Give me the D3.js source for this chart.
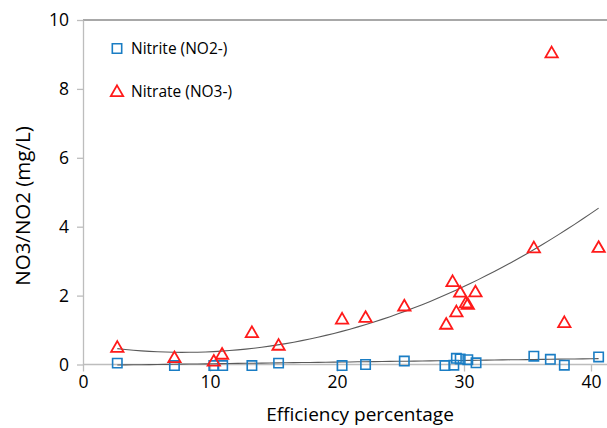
<!DOCTYPE html>
<html>
<head>
<meta charset="utf-8">
<script src="https://cdn.jsdelivr.net/npm/d3@7"></script>
<style>
    body { margin: 0; background: #fff; }
    svg { display: block; font-family: "Open Sans", Lato, sans-serif; font-weight: 500; }
    .tickLabel { font-size: 17.5px; fill: #000; }
    .axisLabel { font-size: 19px; fill: #000; }
    .legendText { font-size: 15.5px; fill: #000; }
</style>
</head>
<body>
<div id="plotSect"></div>
<script>
/* global d3 */

// Data //

let xTicks = [0, 10, 20, 30, 40];
let yTicks = [0, 2, 4, 6, 8, 10];

let nitrateX = [2.7, 7.2, 10.3, 10.95, 13.3, 15.4, 20.4, 22.25, 25.3, 28.6,
    29.1, 29.4, 29.7, 30.15, 30.3, 30.9, 35.5, 36.9, 37.9, 40.6];
let nitrateY = [0.5, 0.2, 0.1, 0.3, 0.93, 0.56, 1.32, 1.37, 1.7, 1.17,
    2.41, 1.53, 2.1, 1.79, 1.75, 2.11, 3.39, 9.05, 1.22, 3.4];

let nitriteX = [2.7, 7.2, 10.3, 11.0, 13.3, 15.4, 20.4, 22.25, 25.3, 28.5,
    29.2, 29.4, 29.7, 30.3, 30.95, 35.5, 36.8, 37.9, 40.6];
let nitriteY = [0.04, -0.03, -0.03, -0.03, -0.03, 0.04, -0.03, 0.0, 0.1, -0.03,
    -0.02, 0.18, 0.16, 0.14, 0.05, 0.24, 0.15, -0.02, 0.22];

// trendline coefficients (a + b*x + c*x^2) and x range, as drawn in the figure
let nitrateTrend = [0.599, -0.0621, 0.00392];
let nitriteTrend = [-0.028, 0.00488, 0];
let trendRange = [2.7, 40.6];

let seriesNames = ["Nitrite (NO2-)", "Nitrate (NO3-)"];

// Chart setup //

let SVGwidth = 607,
    SVGheight = 428;

let xScale = d3.scaleLinear().domain([0, 40]).range([83, 591]);
let yScale = d3.scaleLinear().domain([0, 10]).range([364.5, 20]);
let xEdge = 41.3;

let blue = "#1a7dc4",
    red = "#ff1a1a",
    axisGrey = "#bdbdbd",
    trendGrey = "#5a5a5a";

let svg = d3.select("#plotSect").append("svg")
    .attr("width", SVGwidth)
    .attr("height", SVGheight);

// top border / gridline at y max
svg.append("line")
    .attr("x1", xScale(0))
    .attr("x2", xScale(xEdge))
    .attr("y1", yScale(10))
    .attr("y2", yScale(10))
    .style("stroke", "#a8a8a8")
    .style("stroke-width", 2);

let xAxis = d3.axisBottom(xScale).tickValues(xTicks).tickSize(7).tickSizeOuter(0);
let yAxis = d3.axisLeft(yScale).tickValues(yTicks).tickSize(6).tickSizeOuter(0);

let gx = svg.append("g")
    .attr("class", "xAxis")
    .attr("transform", "translate(0," + yScale(0) + ")")
    .call(xAxis);
gx.select(".domain").attr("d", "M" + xScale(0) + ",0H" + xScale(xEdge));

let gy = svg.append("g")
    .attr("class", "yAxis")
    .attr("transform", "translate(" + xScale(0) + ",0)")
    .call(yAxis);

svg.selectAll(".xAxis .domain, .yAxis .domain, .xAxis line, .yAxis line")
    .style("stroke", axisGrey)
    .style("stroke-width", 1.3);

gx.selectAll("text")
    .attr("class", "tickLabel")
    .attr("y", 11)
    .attr("dy", "0.71em");
gy.selectAll("text")
    .attr("class", "tickLabel")
    .attr("x", -14);
svg.selectAll(".tickLabel").attr("font-family", null).attr("font-size", null).attr("fill", null);
gx.attr("font-family", null).attr("font-size", null);
gy.attr("font-family", null).attr("font-size", null);

svg.append("text")
    .attr("class", "axisLabel")
    .attr("x", 360)
    .attr("y", 421)
    .style("text-anchor", "middle")
    .text("Efficiency percentage");

svg.append("text")
    .attr("class", "axisLabel")
    .attr("transform", "translate(30," + 206 + ") rotate(-90)")
    .style("text-anchor", "middle")
    .style("font-size", "20.5px")
    .text("NO3/NO2 (mg/L)");

// Trendlines //

function trendPoints(coef) {
    let pts = [];
    let n = 60;
    for (let i = 0; i <= n; i++) {
        let x = trendRange[0] + (trendRange[1] - trendRange[0]) * i / n;
        pts.push([x, coef[0] + coef[1] * x + coef[2] * x * x]);
    }
    return pts;
}

let line = d3.line()
    .x(function(d) { return xScale(d[0]); })
    .y(function(d) { return yScale(d[1]); });

[nitrateTrend, nitriteTrend].forEach(function(coef) {
    svg.append("path")
        .attr("d", line(trendPoints(coef)))
        .style("fill", "none")
        .style("stroke", trendGrey)
        .style("stroke-width", 1.1);
});

// Markers //

let squareSym = d3.symbol().type(d3.symbolSquare).size(88);
let triSym = d3.symbol().type(d3.symbolTriangle).size(66);

let nitrite = nitriteX.map(function(x, i) { return {x: x, y: nitriteY[i]}; });
let nitrate = nitrateX.map(function(x, i) { return {x: x, y: nitrateY[i]}; });

svg.selectAll(".nitrite")
    .data(nitrite)
    .enter().append("path")
    .attr("class", "nitrite")
    .attr("d", squareSym)
    .attr("transform", function(d) { return "translate(" + xScale(d.x) + "," + yScale(d.y) + ")"; })
    .style("fill", "none")
    .style("stroke", blue)
    .style("stroke-width", 1.6);

svg.selectAll(".nitrate")
    .data(nitrate)
    .enter().append("path")
    .attr("class", "nitrate")
    .attr("d", triSym)
    .attr("transform", function(d) { return "translate(" + xScale(d.x) + "," + (yScale(d.y) + 1) + ")"; })
    .style("fill", "none")
    .style("stroke", red)
    .style("stroke-width", 1.8);

// Legend //

let legend = svg.selectAll(".legend")
    .data(seriesNames)
    .enter().append("g")
    .attr("class", "legend")
    .attr("transform", function(d, i) { return "translate(117," + (48.5 + i * 43) + ")"; });

legend.append("path")
    .attr("d", function(d, i) { return i === 0 ? squareSym() : triSym(); })
    .attr("transform", function(d, i) { return i === 0 ? null : "translate(0,1)"; })
    .style("fill", "none")
    .style("stroke", function(d, i) { return i === 0 ? blue : red; })
    .style("stroke-width", function(d, i) { return i === 0 ? 1.6 : 1.8; });

legend.append("text")
    .attr("class", "legendText")
    .attr("x", 14)
    .attr("dy", "0.35em")
    .text(function(d) { return d; });
</script>
</body>
</html>
